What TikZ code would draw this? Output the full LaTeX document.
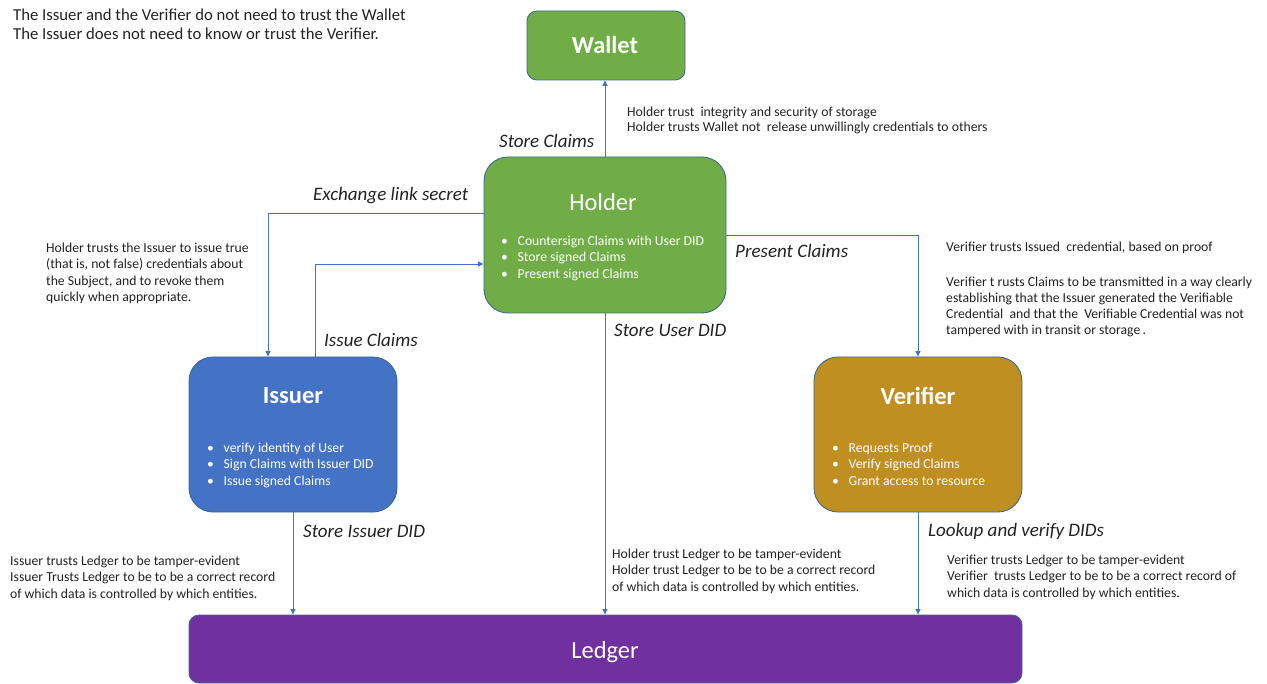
\documentclass[tikz,border=0pt]{standalone}
\usepackage{fontspec}
\setmainfont{Carlito}
\usetikzlibrary{arrows.meta}
\definecolor{flowblue}{HTML}{4472C4}
\definecolor{edgeblue}{HTML}{3F6A94}
\definecolor{holdergreen}{HTML}{70AD47}
\definecolor{issuerblue}{HTML}{4472C4}
\definecolor{verifiergold}{HTML}{BF8F22}
\definecolor{ledgerpurple}{HTML}{7030A0}
\definecolor{inkgray}{HTML}{222222}
\tikzset{
  box/.style={draw=edgeblue, line width=0.9pt, minimum width=#1, inner sep=0pt},
  title/.style={text=white, font=\fontsize{24.5}{28}\selectfont},
  boldtitle/.style={text=white, font=\fontsize{24.5}{28}\selectfont\bfseries},
  bullets/.style={anchor=north west, inner sep=0pt, align=left, text=white,
    font=\fontsize{13.7}{16.5}\selectfont},
  note/.style={anchor=north west, inner sep=0pt, align=left, text=inkgray,
    font=\fontsize{13.7}{16.4}\selectfont},
  flowlabel/.style={anchor=west, inner sep=0pt, text=inkgray,
    font=\fontsize{19}{22}\selectfont\itshape},
  flow/.style={draw=flowblue, line width=0.8pt, -{Triangle[length=5.5pt,width=5pt]}},
}
\newcommand{\bitem}[1]{\makebox[16.5pt][l]{\textbullet}#1}
\begin{document}
\begin{tikzpicture}[x=1pt, y=-1pt]
  \useasboundingbox (0,0) rectangle (1267,684);

  % boxes
  \node[box=158pt, minimum height=69pt, fill=holdergreen, rounded corners=10pt]
    (wallet) at (606,45.5) {};
  \node[box=242pt, minimum height=156pt, fill=holdergreen, rounded corners=24pt]
    (holder) at (605,235) {};
  \node[box=208pt, minimum height=155pt, fill=issuerblue, rounded corners=24pt]
    (issuer) at (293,434.5) {};
  \node[box=208pt, minimum height=155pt, fill=verifiergold, rounded corners=24pt]
    (verifier) at (918,434.5) {};
  \node[box=833pt, minimum height=68pt, fill=ledgerpurple, rounded corners=10pt]
    (ledger) at (605.5,649) {};

  % titles
  \node[boldtitle] (wallett) at (605,45) {Wallet};
  \node[title] (holdert) at (603,202) {Holder};
  \node[boldtitle] (issuert) at (293,396) {Issuer};
  \node[boldtitle] (verifiert) at (918,396) {Verifier};
  \node[title] (ledgert) at (605,652) {Ledger};

  % task lists
  \node[bullets] (holderb) at (501,235.5)
    {\bitem{Countersign Claims with User DID}\\\bitem{Store signed Claims}\\\bitem{Present signed Claims}};
  \node[bullets] (issuerb) at (207,442.5)
    {\bitem{verify identity of User}\\\bitem{Sign Claims with Issuer DID}\\\bitem{Issue signed Claims}};
  \node[bullets] (verifierb) at (832,442.5)
    {\bitem{Requests Proof}\\\bitem{Verify signed Claims}\\\bitem{Grant access to resource}};

  % connectors
  \coordinate (ex) at (268,213);
  \coordinate (ic) at (315,264);
  \coordinate (pc) at (918,235);
  \draw[flow] (holder.north) -- (holder.north |- wallet.south);
  \draw[flow] (holder.west |- ex) -- (ex) -- (ex |- issuer.north);
  \draw[flow] (ic |- issuer.north) -- (ic) -- (ic -| holder.west);
  \draw[flow] (holder.east |- pc) -- (pc) -- (pc |- verifier.north);
  \draw[flow] (holder.south) -- (holder.south |- ledger.north);
  \draw[flow] (issuer.south) -- (issuer.south |- ledger.north);
  \draw[flow] (verifier.south) -- (verifier.south |- ledger.north);

  % connector labels
  \node[flowlabel] (lstore) at (499,141) {Store Claims};
  \node[flowlabel] (lexch) at (313,196) {Exchange link secret};
  \node[flowlabel] (lpres) at (735,251) {Present Claims};
  \node[flowlabel] (luser) at (614,330) {Store User DID};
  \node[flowlabel] (lissue) at (324,340) {Issue Claims};
  \node[flowlabel] (lissdid) at (303,531) {Store Issuer DID};
  \node[flowlabel] (llookup) at (928,531) {Lookup and verify DIDs};

  % trust notes
  \node[note, font=\fontsize{16.7}{19}\selectfont] (general) at (13,9)
    {The Issuer and the Verifier do not need to trust the Wallet\\The Issuer does not need to know or trust the Verifier.};
  \node[note, font=\fontsize{13.7}{15.5}\selectfont] (nwallet) at (627,106.5)
    {Holder trust\ \ integrity and security of storage\\Holder trusts Wallet not\ \ release unwillingly credentials to others};
  \node[note] (nissuer) at (46,242.5)
    {Holder trusts the Issuer to issue true\\(that is, not false) credentials about\\the Subject, and to revoke them\\quickly when appropriate.};
  \node[note] (nverif1) at (946,241.5)
    {Verifier trusts Issued\ \ credential, based on proof};
  \node[note, font=\fontsize{13.7}{16}\selectfont] (nverif2) at (946,276.5)
    {Verifier t rusts Claims to be transmitted in a way clearly\\establishing that the Issuer generated the Verifiable\\Credential\ \ and that the\ \ Verifiable Credential was not\\tampered with in transit or storage\,.};
  \node[note] (nlissuer) at (10,555.5)
    {Issuer trusts Ledger to be tamper-evident\\Issuer Trusts Ledger to be to be a correct record\\of which data is controlled by which entities.};
  \node[note] (nlholder) at (612,548.5)
    {Holder trust Ledger to be tamper-evident\\Holder trust Ledger to be to be a correct record\\of which data is controlled by which entities.};
  \node[note] (nlverif) at (947,554.5)
    {Verifier trusts Ledger to be tamper-evident\\Verifier\ \ trusts Ledger to be to be a correct record of\\which data is controlled by which entities.};
\end{tikzpicture}
\end{document}
